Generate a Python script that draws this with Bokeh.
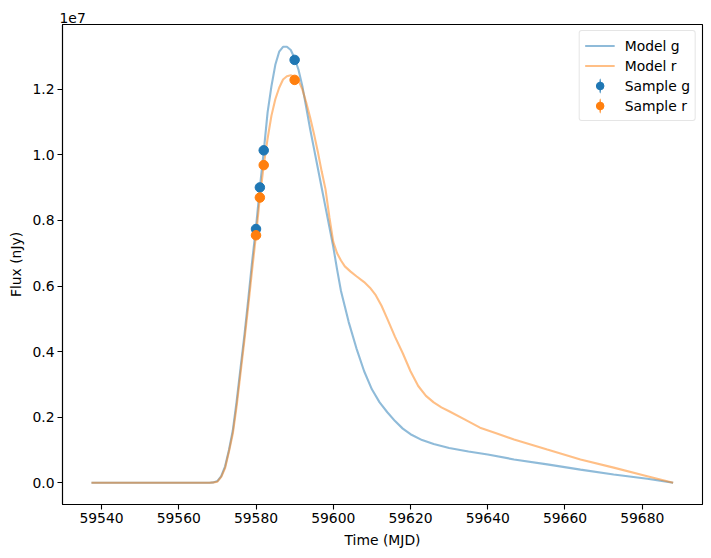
from bokeh.plotting import figure
from bokeh.models import (ColumnDataSource, Range1d, FixedTicker, Legend, LegendItem)
from bokeh.embed import file_html
from bokeh.resources import INLINE

# ---- data ----
model_g_t = [59537.4, 59568.0, 59569.0, 59570.0, 59571.0, 59572.0, 59573.0, 59574.0, 59575.0,
             59576.0, 59577.0, 59578.0, 59579.0, 59580.0, 59581.0, 59582.0, 59583.0, 59584.0,
             59585.0, 59586.0, 59587.0, 59588.0, 59589.0, 59590.0, 59591.0, 59592.0, 59593.0,
             59594.0, 59595.0, 59596.0, 59597.0, 59598.0, 59599.0, 59600.0, 59601.0, 59602.0,
             59604.0, 59606.0, 59608.0, 59610.0, 59612.0, 59614.0, 59616.0, 59618.0, 59620.0,
             59623.0, 59626.0, 59630.0, 59635.0, 59640.0, 59646.8, 59655.4, 59664.0, 59672.6,
             59681.3, 59688.0]
model_g_f = [0.0, 0.0, 0.01e6, 0.05e6, 0.2e6, 0.5e6, 1.0e6, 1.6e6, 2.5e6,
             3.5e6, 4.5e6, 5.6e6, 6.75e6, 7.8e6, 9.0e6, 10.1e6, 11.3e6, 12.1e6,
             12.75e6, 13.15e6, 13.3e6, 13.3e6, 13.2e6, 12.95e6, 12.6e6, 12.1e6, 11.45e6,
             10.8e6, 10.2e6, 9.6e6, 9.0e6, 8.4e6, 7.8e6, 7.2e6, 6.5e6, 5.85e6,
             4.9e6, 4.1e6, 3.4e6, 2.85e6, 2.45e6, 2.15e6, 1.88e6, 1.65e6, 1.48e6,
             1.3e6, 1.18e6, 1.06e6, 0.95e6, 0.86e6, 0.71e6, 0.56e6, 0.40e6, 0.25e6,
             0.12e6, 0.0]
model_r_t = [59537.4, 59568.0, 59569.0, 59570.0, 59571.0, 59572.0, 59573.0, 59574.0, 59575.0,
             59576.0, 59577.0, 59578.0, 59579.0, 59580.0, 59581.0, 59582.0, 59583.0, 59584.0,
             59585.0, 59586.0, 59587.0, 59588.0, 59589.0, 59590.0, 59591.0, 59592.0, 59593.0,
             59594.0, 59595.0, 59596.0, 59597.0, 59598.0, 59599.0, 59600.0, 59601.0, 59602.0,
             59603.0, 59604.5, 59606.0, 59608.0, 59609.5, 59611.0, 59612.5, 59614.0, 59616.0,
             59618.0, 59620.0, 59622.0, 59624.0, 59626.0, 59628.0, 59630.0, 59634.0, 59638.0,
             59642.0, 59646.8, 59655.4, 59664.0, 59672.6, 59681.3, 59688.0]
model_r_f = [0.0, 0.0, 0.01e6, 0.03e6, 0.18e6, 0.45e6, 0.95e6, 1.5e6, 2.35e6,
             3.35e6, 4.35e6, 5.4e6, 6.5e6, 7.55e6, 8.7e6, 9.69e6, 10.5e6, 11.2e6,
             11.7e6, 12.05e6, 12.3e6, 12.4e6, 12.43e6, 12.38e6, 12.27e6, 12.0e6, 11.6e6,
             11.15e6, 10.65e6, 10.1e6, 9.5e6, 8.95e6, 8.1e6, 7.35e6, 7.0e6, 6.78e6,
             6.6e6, 6.44e6, 6.3e6, 6.12e6, 5.95e6, 5.72e6, 5.4e6, 5.0e6, 4.45e6,
             3.95e6, 3.4e6, 2.95e6, 2.65e6, 2.45e6, 2.3e6, 2.18e6, 1.93e6, 1.68e6,
             1.52e6, 1.32e6, 1.01e6, 0.71e6, 0.46e6, 0.20e6, 0.0]

sample_g_t = [59580.0, 59581.0, 59582.0, 59590.0]
sample_g_f = [7.74e6, 9.01e6, 10.14e6, 12.90e6]
sample_r_t = [59580.0, 59581.0, 59582.0, 59590.0]
sample_r_f = [7.55e6, 8.70e6, 9.69e6, 12.29e6]

x_ticks = [59540, 59560, 59580, 59600, 59620, 59640, 59660, 59680]
y_ticks = [0, 2e6, 4e6, 6e6, 8e6, 10e6, 12e6]
y_tick_labels = ["0.0", "0.2", "0.4", "0.6", "0.8", "1.0", "1.2"]

BLUE = "#1f77b4"
ORANGE = "#ff7f0e"
FONT = "DejaVu Sans"
FS = "13.9px"

p = figure(width=711, height=558, output_backend="svg", toolbar_location=None,
           x_range=Range1d(59529.9, 59695.6), y_range=Range1d(-0.665e6, 13.98e6),
           min_border_left=62, min_border_right=9, min_border_top=24, min_border_bottom=54)
p.frame_width = 640
p.frame_height = 480
p.xgrid.visible = False
p.ygrid.visible = False
p.outline_line_color = "black"
p.outline_line_width = 1.1
p.background_fill_color = "white"
p.border_fill_color = "white"

p.title.text = "1e7"
p.title.text_font = FONT
p.title.text_font_size = FS
p.title.text_font_style = "normal"
p.title.text_color = "black"
p.title.align = "left"
p.title.standoff = 3
p.title.offset = -3

src_g = ColumnDataSource(dict(t=model_g_t, f=model_g_f))
src_r = ColumnDataSource(dict(t=model_r_t, f=model_r_f))
src_sg = ColumnDataSource(dict(t=sample_g_t, f=sample_g_f))
src_sr = ColumnDataSource(dict(t=sample_r_t, f=sample_r_f))
legend_only = ColumnDataSource(dict(t=[float("nan")], f=[float("nan")]))

lg = p.line("t", "f", source=src_g, line_color=BLUE, line_alpha=0.5, line_width=2.1)
lr = p.line("t", "f", source=src_r, line_color=ORANGE, line_alpha=0.5, line_width=2.1)
# legend-only thin vertical bars (errorbar look in the legend); not drawn in the plot
eg = p.ellipse("t", "f", source=legend_only, width=1.6, height=15, width_units="screen",
               height_units="screen", fill_color=BLUE, line_color=None)
er = p.ellipse("t", "f", source=legend_only, width=1.6, height=15, width_units="screen",
               height_units="screen", fill_color=ORANGE, line_color=None)
sg = p.scatter("t", "f", source=src_sg, marker="circle", size=9.5, fill_color=BLUE, line_color=BLUE)
sr = p.scatter("t", "f", source=src_sr, marker="circle", size=9.5, fill_color=ORANGE, line_color=ORANGE)

for ax in (p.xaxis[0], p.yaxis[0]):
    ax.major_label_text_font = FONT
    ax.major_label_text_font_size = FS
    ax.major_label_text_color = "black"
    ax.axis_label_text_font = FONT
    ax.axis_label_text_font_size = FS
    ax.axis_label_text_font_style = "normal"
    ax.axis_label_text_color = "black"
    ax.axis_line_color = "black"
    ax.axis_line_width = 1.1
    ax.major_tick_line_color = "black"
    ax.major_tick_line_width = 1.1
    ax.major_tick_in = 0
    ax.major_tick_out = 5
    ax.minor_tick_line_color = None
    ax.major_label_standoff = 3

p.xaxis.ticker = FixedTicker(ticks=x_ticks)
p.yaxis.ticker = FixedTicker(ticks=y_ticks)
p.yaxis.major_label_overrides = {t: l for t, l in zip(y_ticks, y_tick_labels)}
p.yaxis.major_label_orientation = "horizontal"
p.xaxis.axis_label = "Time (MJD)"
p.yaxis.axis_label = "Flux (nJy)"
p.xaxis.axis_label_standoff = 6
p.yaxis.axis_label_standoff = 5

legend = Legend(items=[
    LegendItem(label="Model g", renderers=[lg]),
    LegendItem(label="Model r", renderers=[lr]),
    LegendItem(label="Sample g", renderers=[eg, sg]),
    LegendItem(label="Sample r", renderers=[er, sr]),
], location="top_right")
legend.label_text_font = FONT
legend.label_text_font_size = FS
legend.label_text_color = "black"
legend.border_line_color = "#cccccc"
legend.border_line_width = 1
legend.border_radius = 3
legend.background_fill_alpha = 0.8
legend.margin = 6
legend.padding = 5
legend.spacing = 1
legend.label_height = 19
legend.glyph_height = 19
legend.glyph_width = 30
legend.label_standoff = 10
p.add_layout(legend)

open("out.html", "w").write(file_html(p, INLINE))
